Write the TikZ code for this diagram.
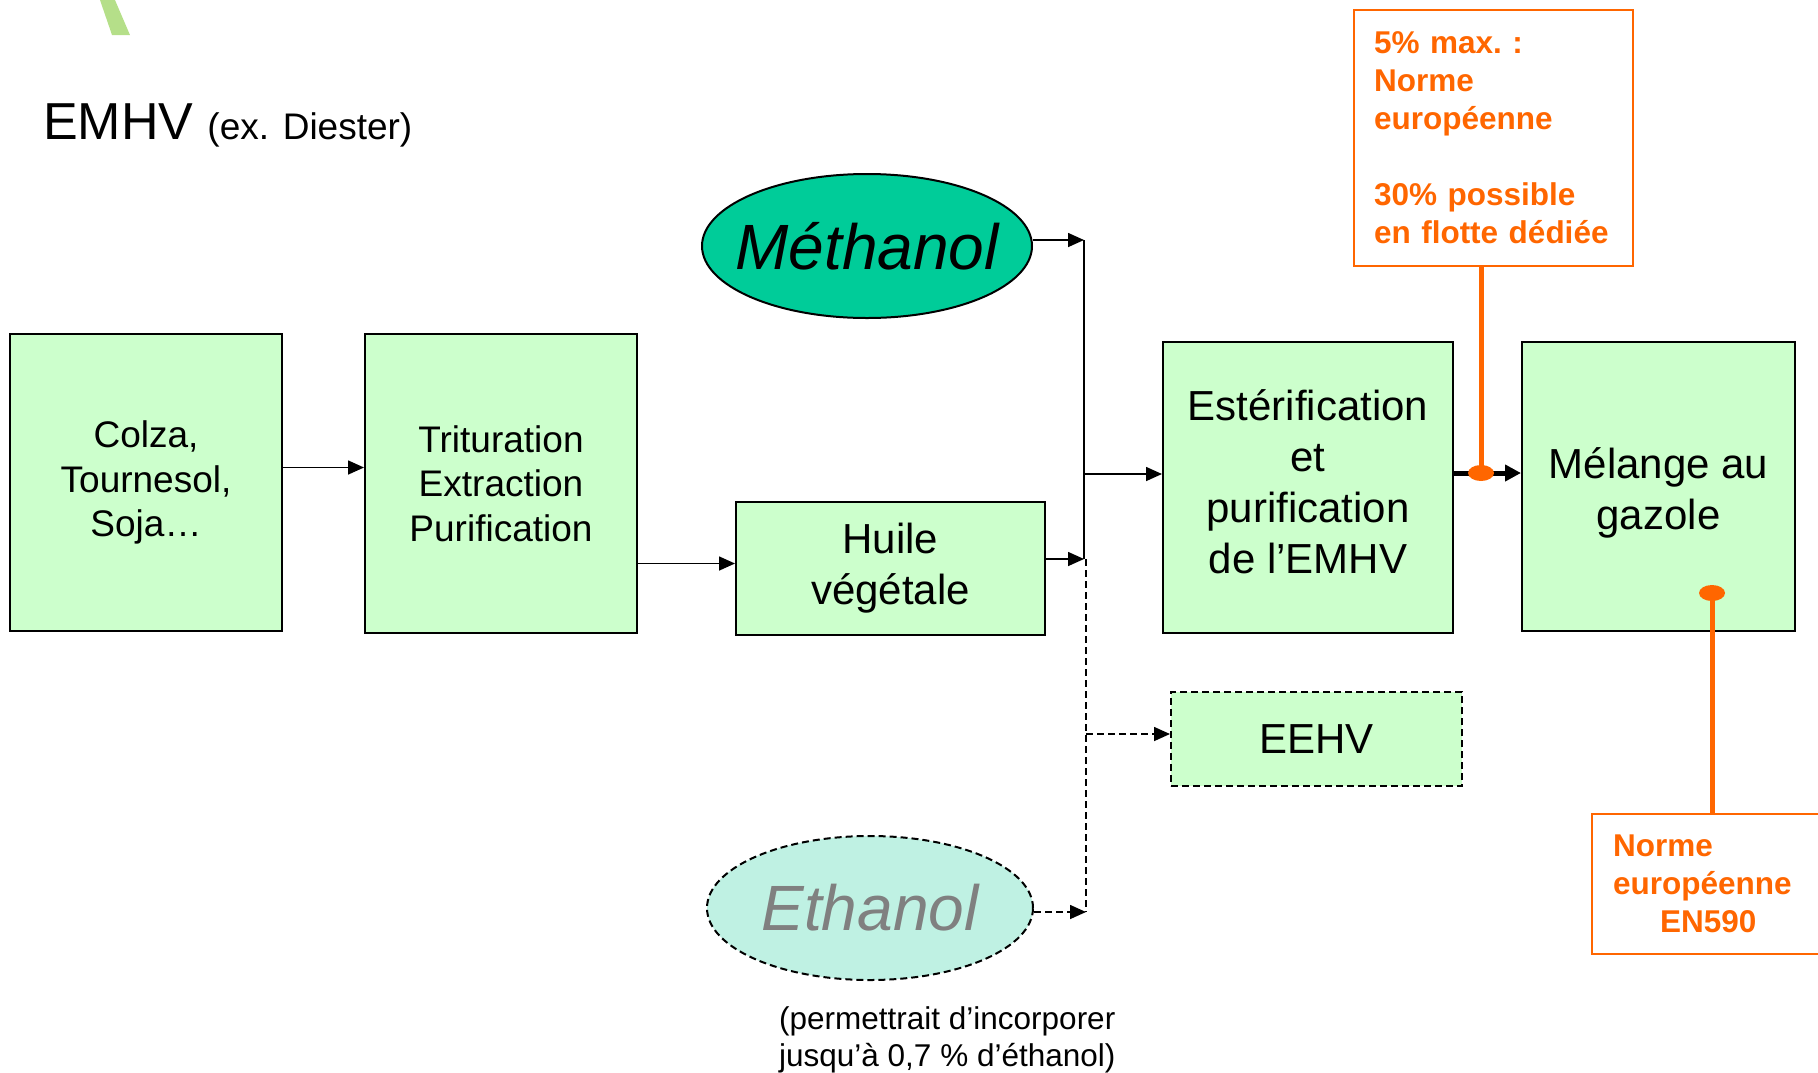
\documentclass[tikz,border=0pt]{standalone}
\usepackage{fontspec}
\setmainfont{Liberation Sans}
\usepackage{xcolor}
\usepackage{tikz}
\usetikzlibrary{positioning, arrows.meta, shapes.geometric}
\definecolor{boxFill}{HTML}{CCFFCC}
\definecolor{methFill}{HTML}{00CC99}
\definecolor{ethFill}{HTML}{BFF1E3}
\definecolor{noteOrange}{HTML}{FF6600}
\definecolor{leafGreen}{HTML}{B5DF89}
\definecolor{ethText}{HTML}{808080}

\begin{document}
\begin{tikzpicture}[x=1pt, y=-1pt,
    proc/.style={rectangle, draw=black, line width=2pt, fill=boxFill, inner sep=0pt,
                 align=center, font=\fontsize{42}{51}\selectfont},
    procsm/.style={proc, font=\fontsize{37}{44.6}\selectfont},
    boxtext/.style={align=center, inner sep=0pt, font=\fontsize{42}{51}\selectfont},
    alcool/.style={ellipse, draw=black, line width=2pt, inner sep=0pt,
                   minimum width=330pt, minimum height=144pt,
                   font=\itshape\fontsize{64}{72}\selectfont},
    dsh/.style={dash pattern=on 7pt off 4pt},
    arr/.style={-{Triangle[length=16pt,width=14pt]}, line width=1.6pt},
    bigarr/.style={-{Triangle[length=16pt,width=16pt]}, line width=5pt},
    note/.style={rectangle, draw=noteOrange, line width=2pt, text=noteOrange, align=left,
                 inner ysep=0pt, font=\bfseries\fontsize{31.5}{38}\selectfont},
    pin/.style={draw=noteOrange, line width=5pt}]
  \useasboundingbox (0,0) rectangle (1818,1072);
  \clip (0,0) rectangle (1818,1072);
  % leaf stroke from the slide template
  \fill[leafGreen] (100,0) -- (115,0) -- (130,35) -- (112,35) -- cycle;
  \node[anchor=base west, inner sep=0pt] (title) at (43,139)
    {{\fontsize{52}{60}\selectfont EMHV}\hspace*{14pt}{\fontsize{37}{44}\selectfont (ex. Diester)}};

  % process boxes
  \node[procsm, minimum width=272pt, minimum height=297pt] (colza) at (146,482.5) {Colza,\\Tournesol,\\Soja…};
  \node[procsm, minimum width=272pt, minimum height=299pt] (tritu) at (501,483.5) {Trituration\\Extraction\\Purification};
  \node[proc, minimum width=309pt, minimum height=133pt] (huile) at (890.5,568.5) {Huile\\végétale};
  \node[proc, minimum width=290pt, minimum height=291pt,
        label={[boxtext, yshift=6pt]center:Estérification\\et\\purification\\de l’EMHV}] (ester) at (1308,487.5) {};
  \node[proc, minimum width=273pt, minimum height=289pt,
        label={[boxtext, yshift=-6pt]center:Mélange au\\gazole}] (melange) at (1658.5,486.5) {};
  \node[proc, dsh, minimum width=291pt, minimum height=94pt] (eehv) at (1316.5,739) {EEHV};
  \node[alcool, fill=methFill] (meth) at (867,246) {\makebox[0pt]{Méthanol}};
  \node[alcool, dsh, fill=ethFill, text=ethText, minimum width=326pt] (eth) at (870,908) {\makebox[0pt]{Ethanol}};
  \node[anchor=west, align=left, inner sep=0pt, font=\fontsize{31.5}{37}\selectfont] (remark) at (779,1040)
    {(permettrait d’incorporer\\jusqu’à 0,7 \% d’éthanol)};

  % collector line
  \coordinate (jtop) at (1084,240);
  \coordinate (jhuile) at (1084,559);
  \coordinate (jmid) at (1084,474);
  \coordinate (jeehv) at (1086,734);
  \coordinate (jeth) at (1086,912);
  \draw[line width=1.6pt] (jtop) -- (jhuile);
  \draw[line width=1.6pt, dsh] (jhuile -| jeth) -- (jeth);

  \draw[arr] ([yshift=15pt]colza.east) -- ([yshift=15pt]colza.east -| tritu.west);
  \draw[arr] ([yshift=5pt]huile.west -| tritu.east) -- ([yshift=5pt]huile.west);
  \draw[arr] (meth.east |- jtop) -- (jtop);
  \draw[arr] (huile.east |- jhuile) -- (jhuile);
  \draw[arr, dsh] (eth.east |- jeth) -- (jeth);
  \draw[arr] (jmid) -- (jmid -| ester.west);
  \draw[arr, dsh] (jeehv) -- (jeehv -| eehv.west);
  \draw[bigarr] ([yshift=14.5pt]ester.east) -- ([yshift=14.5pt]ester.east -| melange.west);

  % orange notes
  \node[note, anchor=north west, text width=239pt, inner xsep=20pt, minimum height=256pt] (note1) at (1353,9)
    {5\% max.\ :\\Norme\\européenne\\[38pt]30\% possible\\en flotte dédiée};
  \node[note, anchor=north west, text width=218pt, inner xsep=21pt, minimum height=140pt] (note2) at (1591,813)
    {Norme\\européenne\\\hspace*{47pt}EN590};
  \coordinate (dot1) at (1481,473);
  \coordinate (dot2) at (1712,593);
  \draw[pin] (note1.south -| dot1) -- (dot1);
  \draw[pin] (note2.north -| dot2) -- (dot2);
  \fill[noteOrange] (dot1) ellipse [x radius=13pt, y radius=8pt];
  \fill[noteOrange] (dot2) ellipse [x radius=13pt, y radius=8pt];
\end{tikzpicture}
\end{document}
